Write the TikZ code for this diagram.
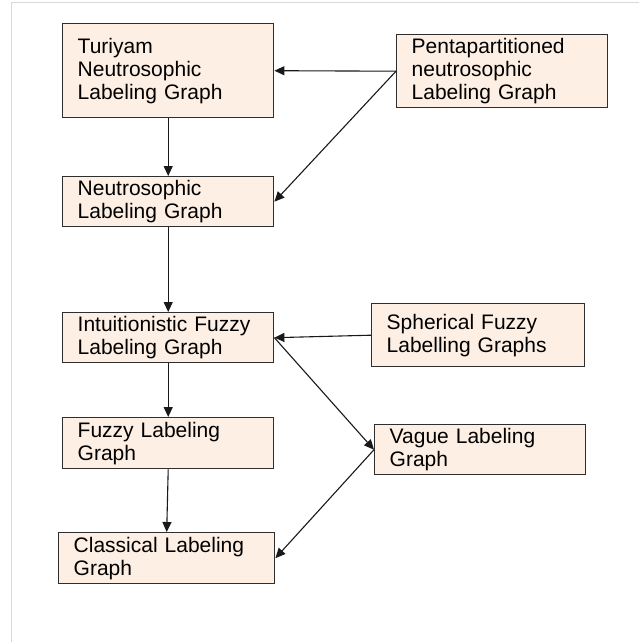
\documentclass[tikz,border=0pt]{standalone}
\usepackage{fontspec}
\setmainfont{Liberation Sans}
\usetikzlibrary{arrows.meta}
\definecolor{boxfill}{HTML}{FDEFE4}
\definecolor{boxline}{HTML}{2E2E2E}
\definecolor{framegray}{HTML}{D9D9D9}
\tikzset{
  box/.style={draw=boxline, line width=1.4pt, fill=boxfill, rectangle, anchor=north west,
    inner xsep=15pt, inner ysep=0pt, align=left,
    font=\fontsize{21}{23}\selectfont},
  conn/.style={draw=black!90, line width=1.1pt, -{Triangle[length=10pt,width=9pt]}}
}
\newcommand{\mybox}[6]{% name, x, y, w, h, text
  \node[box, minimum width=#4pt, minimum height=#5pt, text width=#4pt-30pt] (#1) at (#2,#3) {#6};}
\begin{document}
\begin{tikzpicture}[x=1pt,y=-1pt]
\useasboundingbox (0,0) rectangle (639,642);
\draw[framegray, line width=1pt] (11,642) -- (11,3) -- (639,3);
\mybox{tur}{62}{23}{211}{94}{Turiyam\\Neutrosophic\\Labeling Graph}
\mybox{neu}{62}{176}{211}{50}{Neutrosophic\\Labeling Graph}
\mybox{pen}{396}{34}{211}{73}{Pentapartitioned\\neutrosophic\\Labeling Graph}
\mybox{int}{62}{312}{211}{50}{Intuitionistic Fuzzy\\Labeling Graph}
\mybox{fuz}{62}{417}{211}{51}{Fuzzy Labeling\\Graph}
\mybox{cla}{58}{532}{216}{51}{Classical Labeling\\Graph}
\mybox{sph}{371}{303}{213}{63}{Spherical Fuzzy\\Labelling Graphs}
\mybox{vag}{374}{424}{211}{50}{Vague Labeling\\Graph}
\draw[conn] (pen.west) -- (tur.east);
\draw[conn] (pen.west) -- (neu.east);
\draw[conn] (tur.south) -- (neu.north);
\draw[conn] (neu.south) -- (int.north);
\draw[conn] (sph.west) -- (int.east);
\draw[conn] (int.east) -- (vag.west);
\draw[conn] (int.south) -- (fuz.north);
\draw[conn] (fuz.south) -- (cla.north);
\draw[conn] (vag.west) -- (cla.east);
\end{tikzpicture}
\end{document}
